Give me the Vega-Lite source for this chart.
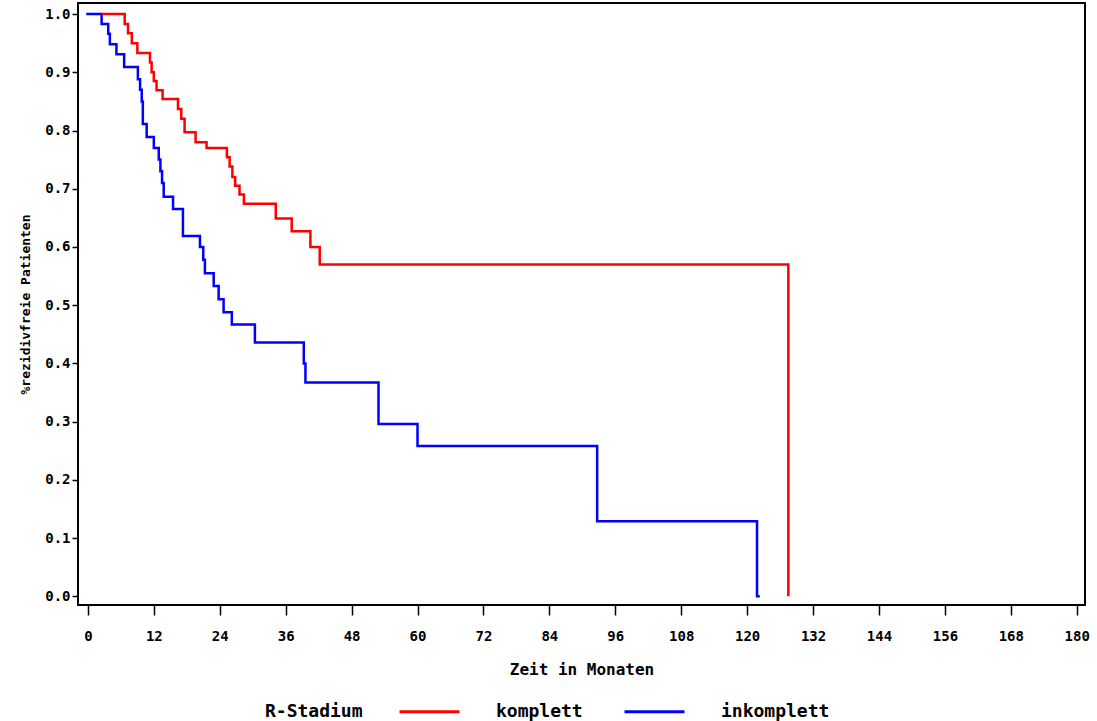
{
  "$schema": "https://vega.github.io/schema/vega-lite/v6.json",
  "width": 1007,
  "height": 602,
  "autosize": "none",
  "padding": {"left": 78, "top": 3, "right": 12, "bottom": 116},
  "background": "white",
  "config": {
    "font": "DejaVu Sans Mono",
    "view": {"stroke": "black", "strokeWidth": 2},
    "axis": {"labelFont": "DejaVu Sans Mono", "labelFontWeight": "bold", "labelFontSize": 14, "labelColor": "black",
             "titleFont": "DejaVu Sans Mono", "titleFontWeight": "bold", "titleFontSize": 16, "titleColor": "black",
             "grid": false, "domain": false, "tickColor": "black", "tickWidth": 1.5},
    "legend": {"labelFont": "DejaVu Sans Mono", "labelFontWeight": "bold", "labelFontSize": 18, "labelColor": "black",
               "titleFont": "DejaVu Sans Mono", "titleFontWeight": "bold", "titleFontSize": 18, "titleColor": "black"}
  },
  "data": {"values": [
    {"t": -0.3, "s": 1.0, "g": "inkomplett"},
    {"t": 2.5, "s": 0.983, "g": "inkomplett"},
    {"t": 3.7, "s": 0.966, "g": "inkomplett"},
    {"t": 4.0, "s": 0.948, "g": "inkomplett"},
    {"t": 5.2, "s": 0.931, "g": "inkomplett"},
    {"t": 6.6, "s": 0.909, "g": "inkomplett"},
    {"t": 9.1, "s": 0.888, "g": "inkomplett"},
    {"t": 9.5, "s": 0.87, "g": "inkomplett"},
    {"t": 9.8, "s": 0.85, "g": "inkomplett"},
    {"t": 10.0, "s": 0.811, "g": "inkomplett"},
    {"t": 10.7, "s": 0.789, "g": "inkomplett"},
    {"t": 12.0, "s": 0.77, "g": "inkomplett"},
    {"t": 12.9, "s": 0.75, "g": "inkomplett"},
    {"t": 13.2, "s": 0.73, "g": "inkomplett"},
    {"t": 13.5, "s": 0.71, "g": "inkomplett"},
    {"t": 13.8, "s": 0.686, "g": "inkomplett"},
    {"t": 15.5, "s": 0.665, "g": "inkomplett"},
    {"t": 17.3, "s": 0.619, "g": "inkomplett"},
    {"t": 20.4, "s": 0.6, "g": "inkomplett"},
    {"t": 21.0, "s": 0.578, "g": "inkomplett"},
    {"t": 21.3, "s": 0.555, "g": "inkomplett"},
    {"t": 22.9, "s": 0.533, "g": "inkomplett"},
    {"t": 23.8, "s": 0.51, "g": "inkomplett"},
    {"t": 24.7, "s": 0.488, "g": "inkomplett"},
    {"t": 26.2, "s": 0.467, "g": "inkomplett"},
    {"t": 30.4, "s": 0.436, "g": "inkomplett"},
    {"t": 39.3, "s": 0.4, "g": "inkomplett"},
    {"t": 39.6, "s": 0.367, "g": "inkomplett"},
    {"t": 52.9, "s": 0.296, "g": "inkomplett"},
    {"t": 60.0, "s": 0.258, "g": "inkomplett"},
    {"t": 92.7, "s": 0.129, "g": "inkomplett"},
    {"t": 121.8, "s": 0.0, "g": "inkomplett"},
    {"t": 122.3, "s": 0.0, "g": "inkomplett"},
    {"t": 2.5, "s": 1.0, "g": "komplett"},
    {"t": 6.7, "s": 0.983, "g": "komplett"},
    {"t": 7.3, "s": 0.967, "g": "komplett"},
    {"t": 8.0, "s": 0.95, "g": "komplett"},
    {"t": 9.0, "s": 0.933, "g": "komplett"},
    {"t": 11.3, "s": 0.917, "g": "komplett"},
    {"t": 11.6, "s": 0.9, "g": "komplett"},
    {"t": 12.0, "s": 0.885, "g": "komplett"},
    {"t": 12.5, "s": 0.869, "g": "komplett"},
    {"t": 13.6, "s": 0.854, "g": "komplett"},
    {"t": 16.4, "s": 0.837, "g": "komplett"},
    {"t": 17.0, "s": 0.82, "g": "komplett"},
    {"t": 17.6, "s": 0.797, "g": "komplett"},
    {"t": 19.6, "s": 0.78, "g": "komplett"},
    {"t": 21.6, "s": 0.77, "g": "komplett"},
    {"t": 25.3, "s": 0.754, "g": "komplett"},
    {"t": 25.8, "s": 0.738, "g": "komplett"},
    {"t": 26.3, "s": 0.72, "g": "komplett"},
    {"t": 26.8, "s": 0.705, "g": "komplett"},
    {"t": 27.6, "s": 0.69, "g": "komplett"},
    {"t": 28.4, "s": 0.674, "g": "komplett"},
    {"t": 34.2, "s": 0.649, "g": "komplett"},
    {"t": 37.1, "s": 0.627, "g": "komplett"},
    {"t": 40.5, "s": 0.6, "g": "komplett"},
    {"t": 42.2, "s": 0.57, "g": "komplett"},
    {"t": 127.5, "s": 0.0, "g": "komplett"}
  ]},
  "mark": {"type": "line", "interpolate": "step-after", "strokeWidth": 2.5},
  "encoding": {
    "x": {"field": "t", "type": "quantitative", "title": "Zeit in Monaten",
          "scale": {"domain": [-1.8, 181.5], "nice": false, "zero": false},
          "axis": {"values": [0,12,24,36,48,60,72,84,96,108,120,132,144,156,168,180], "tickSize": 10, "labelPadding": 14, "titlePadding": 18}},
    "y": {"field": "s", "type": "quantitative", "title": "%rezidivfreie Patienten",
          "scale": {"domain": [-0.015, 1.019], "nice": false, "zero": false},
          "axis": {"values": [0,0.1,0.2,0.3,0.4,0.5,0.6,0.7,0.8,0.9,1.0], "format": ".1f", "tickSize": 6, "titlePadding": 12, "titleFontSize": 13}},
    "color": {"field": "g", "type": "nominal", "title": "R-Stadium",
              "scale": {"domain": ["komplett", "inkomplett"], "range": ["#ff0000", "#0000ff"]},
              "legend": {"orient": "none", "legendX": 187, "legendY": 677, "direction": "horizontal", "titleOrient": "left", "titleAnchor": "end", "titleBaseline": "bottom", "titlePadding": 35, "symbolType": "stroke", "symbolStrokeWidth": 3, "symbolSize": 3600, "columnPadding": 35, "labelOffset": 35}}
  }
}
